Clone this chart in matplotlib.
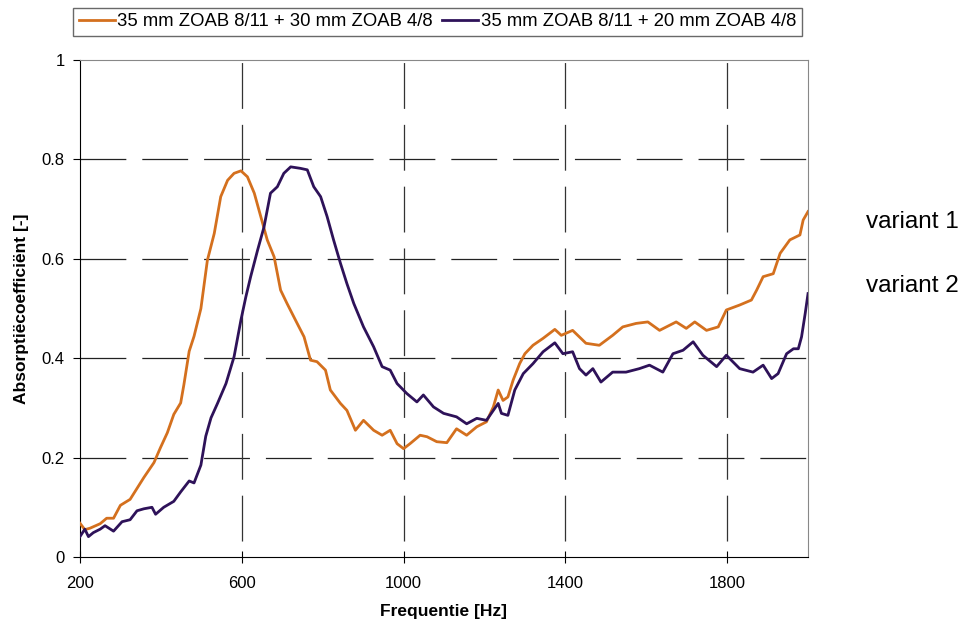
import matplotlib.pyplot as plt

plt.rcParams['font.family'] = ['Liberation Sans', 'DejaVu Sans']
plt.rcParams['lines.scale_dashes'] = False

# variant 1: 35 mm ZOAB 8/11 + 30 mm ZOAB 4/8
f1 = [200, 212, 225, 250, 266, 283, 300, 324, 341, 358, 383, 399, 416, 432, 449,
      457, 470, 482, 499, 515, 532, 548, 565, 581, 598, 614, 631, 647, 663, 680,
      696, 712, 737, 754, 770, 786, 807, 819, 844, 860, 881, 901, 926, 947, 967,
      984, 1000, 1016, 1041, 1058, 1082, 1107, 1131, 1156, 1181, 1205, 1222, 1234,
      1246, 1258, 1271, 1287, 1300, 1320, 1345, 1374, 1390, 1418, 1451, 1484, 1517,
      1542, 1575, 1604, 1633, 1674, 1699, 1720, 1749, 1778, 1798, 1831, 1860, 1873,
      1889, 1914, 1931, 1955, 1980, 1988, 2000]
a1 = [0.068, 0.055, 0.058, 0.067, 0.078, 0.078, 0.104, 0.116, 0.138, 0.160, 0.190,
      0.220, 0.250, 0.287, 0.310, 0.347, 0.414, 0.444, 0.500, 0.597, 0.651, 0.725,
      0.758, 0.772, 0.777, 0.765, 0.732, 0.685, 0.638, 0.604, 0.537, 0.510, 0.470,
      0.443, 0.396, 0.393, 0.376, 0.336, 0.309, 0.295, 0.255, 0.275, 0.255, 0.245,
      0.255, 0.228, 0.218, 0.228, 0.245, 0.242, 0.232, 0.230, 0.258, 0.245, 0.262,
      0.272, 0.302, 0.336, 0.315, 0.322, 0.356, 0.389, 0.409, 0.426, 0.440, 0.458,
      0.446, 0.456, 0.430, 0.426, 0.446, 0.463, 0.470, 0.473, 0.456, 0.473, 0.460,
      0.473, 0.456, 0.463, 0.497, 0.507, 0.517, 0.537, 0.564, 0.570, 0.611, 0.638,
      0.648, 0.678, 0.695]

# variant 2: 35 mm ZOAB 8/11 + 20 mm ZOAB 4/8
f2 = [200, 212, 221, 233, 250, 262, 283, 304, 324, 341, 358, 378, 387, 407, 432,
      449, 470, 482, 499, 511, 524, 540, 561, 581, 598, 610, 622, 639, 655, 671,
      688, 704, 721, 745, 762, 778, 795, 811, 827, 844, 860, 877, 901, 926, 947,
      967, 984, 1008, 1033, 1049, 1074, 1099, 1131, 1156, 1181, 1205, 1222, 1234,
      1242, 1258, 1275, 1296, 1320, 1345, 1374, 1394, 1418, 1435, 1451, 1468, 1488,
      1517, 1550, 1583, 1608, 1641, 1666, 1691, 1716, 1740, 1774, 1798, 1831, 1864,
      1889, 1910, 1926, 1947, 1964, 1976, 1984, 1993, 2000]
a2 = [0.041, 0.056, 0.041, 0.049, 0.056, 0.063, 0.052, 0.071, 0.075, 0.093, 0.097,
      0.100, 0.086, 0.100, 0.112, 0.131, 0.153, 0.149, 0.185, 0.243, 0.280, 0.309,
      0.349, 0.403, 0.477, 0.523, 0.564, 0.617, 0.664, 0.732, 0.745, 0.772, 0.785,
      0.782, 0.779, 0.745, 0.725, 0.685, 0.638, 0.591, 0.550, 0.510, 0.463, 0.423,
      0.383, 0.376, 0.349, 0.329, 0.312, 0.326, 0.302, 0.289, 0.282, 0.268, 0.279,
      0.275, 0.295, 0.309, 0.289, 0.285, 0.336, 0.369, 0.389, 0.413, 0.431, 0.409,
      0.413, 0.379, 0.366, 0.379, 0.352, 0.372, 0.372, 0.379, 0.386, 0.372, 0.409,
      0.416, 0.433, 0.406, 0.383, 0.406, 0.379, 0.372, 0.386, 0.359, 0.369, 0.409,
      0.419, 0.419, 0.443, 0.490, 0.530]

labels = ['35 mm ZOAB 8/11 + 30 mm ZOAB 4/8', '35 mm ZOAB 8/11 + 20 mm ZOAB 4/8']
colors = ['#D4701E', '#2E1259']
xticks = [200, 600, 1000, 1400, 1800]
yticks = [0, 0.2, 0.4, 0.6, 0.8, 1]

fig = plt.figure(figsize=(9.74, 6.25), dpi=100)
ax = fig.add_axes([0.0821, 0.1088, 0.7475, 0.7952])

for y in yticks[1:-1]:
    ax.axhline(y, color='#222222', lw=0.9, ls=(0, (33, 11.5)), zorder=1)
for x in xticks[1:]:
    ax.axvline(x, color='#333333', lw=0.9, ls=(33, (33, 11.5)), zorder=1)

l1, = ax.plot(f1, a1, color=colors[0], lw=2.0, zorder=3)
l2, = ax.plot(f2, a2, color=colors[1], lw=2.0, zorder=3)

ax.set_xlim(200, 2000)
ax.set_ylim(0, 1)
ax.set_xticks(xticks)
ax.set_yticks(yticks)
ax.set_yticklabels(['0', '0.2', '0.4', '0.6', '0.8', '1'])
ax.tick_params(axis='x', direction='inout', length=8, labelsize=12, pad=10)
ax.tick_params(axis='y', direction='out', length=5, labelsize=12, pad=6)
for s in ['top', 'right']:
    ax.spines[s].set_color('#888888')
for s in ['left', 'bottom']:
    ax.spines[s].set_color('black')

ax.set_xlabel('Frequentie [Hz]', fontsize=12.5, fontweight='bold', labelpad=9)
ax.set_ylabel('Absorptiëcoefficiënt [-]', fontsize=12.5, fontweight='bold', labelpad=9)

fig.legend([l1, l2], labels, loc='upper left', bbox_to_anchor=(0.075, 0.988),
           ncol=2, frameon=True, fancybox=False, edgecolor='#444444',
           fontsize=13.3, handlelength=1.95, handletextpad=0.15, columnspacing=0.5,
           borderpad=0.3, borderaxespad=0)

fig.text(0.889, 0.645, 'variant 1', fontsize=17.5, va='center')
fig.text(0.889, 0.542, 'variant 2', fontsize=17.5, va='center')

fig.savefig('out.png', dpi=100)
